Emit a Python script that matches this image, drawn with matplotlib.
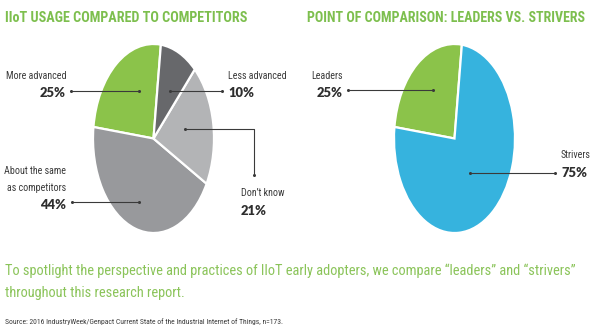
import matplotlib
matplotlib.use("Agg")
import matplotlib.pyplot as plt
from matplotlib import font_manager as fm

# canvas size in pixels
W, H = 595, 335
DPI = 100

installed = {f.name for f in fm.fontManager.ttflist}
NARROW = next((f for f in ["Liberation Sans Narrow", "DejaVu Sans Condensed",
                           "Roboto Condensed", "Open Sans Condensed", "Roboto"] if f in installed),
              "DejaVu Sans")
HEAVY = next((f for f in ["Lato", "Inter", "Roboto", "Open Sans"] if f in installed), "DejaVu Sans")

# ---- data -------------------------------------------------------------
usage_labels = ["More advanced", "About the same\nas competitors", "Don’t know", "Less advanced"]
usage_values = [25, 44, 21, 10]
usage_colors = ["#8bc34a", "#98999c", "#b3b4b6", "#67686b"]

group_labels = ["Leaders", "Strivers"]
group_values = [25, 75]
group_colors = ["#8bc34a", "#36b3de"]

title_left = "IIoT USAGE COMPARED TO COMPETITORS"
title_right = "POINT OF COMPARISON: LEADERS VS. STRIVERS"
body_lines = ["To spotlight the perspective and practices of IIoT early adopters, we compare “leaders” and “strivers”",
              "throughout this research report."]
source = "Source: 2016 IndustryWeek/Genpact Current State of the Industrial Internet of Things, n=173."

GREEN_TITLE = "#7dbf4e"
GREEN_BODY = "#8bc45a"
INK = "#3a3a3a"

fig = plt.figure(figsize=(W / DPI, H / DPI), dpi=DPI)
fig.patch.set_facecolor("white")
renderer = fig.canvas.get_renderer()


def px_axes(x0, y0, x1, y1):
    return fig.add_axes([x0 / W, 1 - y1 / H, (x1 - x0) / W, (y1 - y0) / H])


def ellipse_pie(box, values, colors):
    ax = px_axes(*box)
    ax.pie(values, colors=colors, startangle=83, counterclock=True,
           wedgeprops=dict(edgecolor="white", linewidth=1.6))
    ax.set_aspect("auto")
    ax.set_xlim(-1, 1)
    ax.set_ylim(-1, 1)
    ax.axis("off")
    return ax


ellipse_pie((93, 44, 214, 233), usage_values, usage_colors)
ellipse_pie((394, 44, 515, 233), group_values, group_colors)

# overlay in pixel coordinates for text and leader lines
ov = fig.add_axes([0, 0, 1, 1], facecolor="none")
ov.set_xlim(0, W)
ov.set_ylim(H, 0)
ov.axis("off")


def fitted_size(s, width_px, weight="normal", family=NARROW):
    """Font size (pt) at which string s spans width_px pixels."""
    t = fig.text(0, 0, s, fontsize=10, family=family, fontweight=weight)
    w = t.get_window_extent(renderer).width
    t.remove()
    return 10 * width_px / w


LABEL_SIZE = fitted_size("More advanced", 60)
VALUE_SIZE = fitted_size("25%", 26, "heavy", HEAVY)


def leader(xs, ys):
    ov.plot(xs, ys, color=INK, lw=0.8, solid_capstyle="butt")
    ov.plot([xs[0], xs[-1]], [ys[0], ys[-1]], "o", color=INK, ms=2.2, mec="none")


def label(x, y, name, value, ha, gap=17):
    lines = name.split("\n")
    for i, ln in enumerate(lines):
        ov.text(x, y + i * gap, ln, ha=ha, va="center", fontsize=LABEL_SIZE,
                family=NARROW, color=INK)
    ov.text(x, y + len(lines) * gap, f"{value}%", ha=ha, va="center", fontsize=VALUE_SIZE,
            family=HEAVY, fontweight="heavy", color="#2e2e2e")


# titles
ov.text(5, 18, title_left, ha="left", va="center",
        fontsize=fitted_size(title_left, 243, "bold"), family=NARROW,
        fontweight="bold", color=GREEN_TITLE)
ov.text(307, 18, title_right, ha="left", va="center",
        fontsize=fitted_size(title_right, 280, "bold"), family=NARROW,
        fontweight="bold", color=GREEN_TITLE)

# left pie labels
label(66, 76, usage_labels[0], usage_values[0], "right")
leader([71, 139], [91, 91])
label(66, 171, usage_labels[1], usage_values[1], "right")
leader([72, 139], [202, 202])
label(228, 76, usage_labels[3], usage_values[3], "left")
leader([170, 222], [91, 91])
label(241, 193, usage_labels[2], usage_values[2], "left", gap=18)
leader([185, 254, 254], [129, 129, 175])

# right pie labels
label(343, 76, group_labels[0], group_values[0], "right")
leader([348, 433], [90, 90])
label(561, 155, group_labels[1], group_values[1], "left", gap=18)
leader([470, 555], [173, 173])

# body text and source
BODY_SIZE = fitted_size(body_lines[0], 568)
ov.text(5, 271, body_lines[0], ha="left", va="center", fontsize=BODY_SIZE, family=NARROW,
        color=GREEN_BODY)
ov.text(5, 293, body_lines[1], ha="left", va="center", fontsize=BODY_SIZE, family=NARROW,
        color=GREEN_BODY)
ov.text(5, 322, source, ha="left", va="center", fontsize=fitted_size(source, 277),
        family=NARROW, color=INK)

fig.savefig("out.png", dpi=DPI, facecolor="white")
